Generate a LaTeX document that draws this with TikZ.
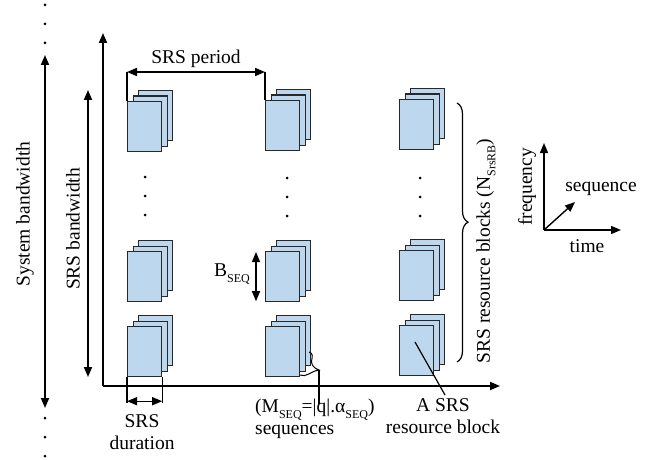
\documentclass[tikz,border=0pt]{standalone}
\usepackage{fontspec}
\setmainfont{Liberation Serif}
\usetikzlibrary{arrows.meta,decorations.pathreplacing,calc}
\definecolor{blockfill}{RGB}{189,215,238}
\definecolor{blockline}{RGB}{40,40,40}
\newcommand\sub[1]{\raisebox{-0.28em}{\fontsize{12}{12}\selectfont #1}}
% a stack of three resource blocks; #2,#3 = top-left corner of the front block
\newcommand\blockstack[3]{%
  \node[blk] (#1-b) at (#2+11,#3-11) {};
  \node[blk] (#1-m) at (#2+5.5,#3-5.5) {};
  \node[blk] (#1-f) at (#2,#3) {};}
% three dots in a column, starting at #1,#2
\newcommand\dotcol[2]{%
  \fill (#1,#2) circle (1.5);
  \fill (#1,#2+19) circle (1.5);
  \fill (#1,#2+38) circle (1.5);}
\begin{document}
\begin{tikzpicture}[x=1pt,y=-1pt,
  every node/.style={font=\rmfamily\fontsize{19.5}{22}\selectfont, inner sep=2pt},
  blk/.style={draw=blockline, fill=blockfill, line width=1.2pt, anchor=north west,
    minimum width=34pt, minimum height=50pt, inner sep=0pt},
  tip/.style={-{Triangle[length=10pt,width=8pt]}},
  dbl/.style={{Triangle[length=10pt,width=8pt]}-{Triangle[length=10pt,width=8pt]}},
  axis/.style={line width=1.8pt},
  thin line/.style={line width=1.4pt}]
\useasboundingbox (0,0) rectangle (651,460);

% main axes
\coordinate (O) at (103,386);
\coordinate (ytop) at (103,33);
\coordinate (xend) at (500,386);
\draw[axis,tip] (O) -- (ytop);
\draw[axis,tip] (O) -- (xend);

% bandwidth arrows on the left
\coordinate (sysT) at (45,55);
\coordinate (sysB) at (45,408);
\draw[axis,dbl] (sysB) -- (sysT);
\dotcol{45}{5}
\dotcol{45}{418}
\node[rotate=90] (sysbw) at (25,214) {System bandwidth};

\coordinate (srsT) at (88,90);
\coordinate (srsB) at (88,377);
\draw[axis,dbl] (srsB) -- (srsT);
\node[rotate=90] (srsbw) at (73,229) {SRS bandwidth};

% resource block stacks: columns in time, rows in frequency
\blockstack{c11}{127}{101}
\blockstack{c12}{127}{251}
\blockstack{c13}{127}{326}
\blockstack{c21}{265}{100}
\blockstack{c22}{265}{251}
\blockstack{c23}{265}{326}
\blockstack{c31}{399}{99}
\blockstack{c32}{399}{250}
\blockstack{c33}{399}{325}

\dotcol{145}{177}
\dotcol{287}{178}
\dotcol{420}{178}

% SRS period
\draw[thin line] (c11-f.north west) -- ++(0,-29) coordinate (p1);
\draw[thin line] (c21-f.north west) -- (c21-f.north west |- p1) coordinate (p2);
\draw[axis,dbl] (p1) -- (p2) node[midway, above=1pt] (period) {SRS period};

% SRS duration
\draw[thin line] (c13-f.south west) -- ++(0,26) coordinate (d1);
\draw[thin line] (c13-f.south east) -- ++(0,26) coordinate (d2);
\draw[thin line,dbl] ($(d1)+(0,-2)$) -- ($(d2)+(0,-2)$);
\node[align=center] (dur) at (142,432) {SRS\\duration};

% B_SEQ
\coordinate (bs1) at ($(c22-f.north west)+(-9,1)$);
\coordinate (bs2) at ($(c22-f.south west)+(-9,-1)$);
\draw[thin line,dbl] (bs1) -- (bs2);
\node[anchor=east, inner sep=0pt] (bseq) at (250,274) {B\sub{SEQ}};

% sequence brace and label
\coordinate (sq) at (319,370);
\draw[line width=1pt] (309,352) .. controls (318,355) and (304,364) .. (sq)
   .. controls (311,371) and (306,378) .. (300,375);
\coordinate (sqend) at (319,404);
\draw[thin line] (sq) -- (sqend);
\node[align=left, anchor=north west, inner sep=0pt] (mseq) at (255,399)
  {(M\sub{SEQ}=|q|.α\sub{SEQ})\\sequences};

% resource block brace
\draw[line width=1.2pt, decorate, decoration={brace, amplitude=11pt, aspect=0.46}]
  (457,103) -- (457,362);
\node[rotate=90] (nrb) at (486,251) {SRS resource blocks (N\sub{SrsRB})};

% a single resource block
\coordinate (rb) at (415,342);
\coordinate (rbl) at (445,395);
\draw[line width=1.2pt] (rb) -- (rbl);
\node[align=center, anchor=north, inner sep=0pt] (arb) at (443,398) {A SRS\\resource block};

% orientation legend
\coordinate (L) at (544,230);
\coordinate (Lf) at (544,143);
\coordinate (Lt) at (621,230);
\coordinate (Ls) at (575,202);
\draw[thin line,tip] (L) -- (Lf);
\draw[thin line,tip] (L) -- (Lt);
\draw[thin line,tip] (L) -- (Ls);
\node[rotate=90] (freq) at (527,187) {frequency};
\node (seq) at (601,189) {sequence};
\node (time) at (587,246) {time};
\end{tikzpicture}
\end{document}
